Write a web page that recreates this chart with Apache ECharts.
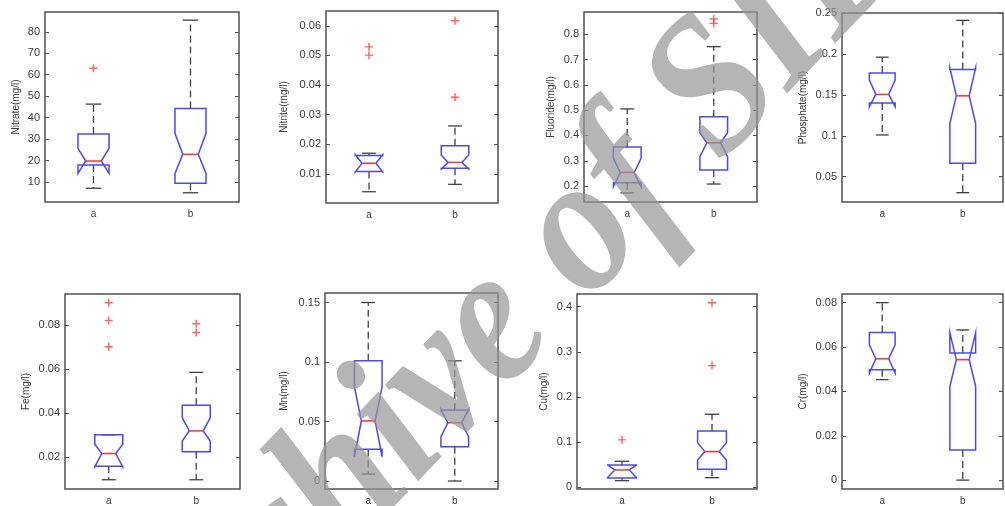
<!DOCTYPE html>
<html><head><meta charset="utf-8">
<script src="https://cdn.jsdelivr.net/npm/echarts@6/dist/echarts.min.js"></script>
<style>html,body{margin:0;padding:0;background:#fff}#c{width:1005px;height:506px}</style>
</head><body><div id="c"></div>
<script>
// groups on the x axis
const groups = ['a', 'b'];
const panelNames = ['Nitrate(mg/l)', 'Nitrite(mg/l)', 'Fluoride(mg/l)', 'Phosphate(mg/l)',
                    'Fe(mg/l)', 'Mn(mg/l)', 'Cu(mg/l)', 'Cr(mg/l)'];
// box stats per group: [whiskerLow, q1, notchLow, median, notchHigh, q3, whiskerHigh]
const nitrateBox   = [[7.1, 17.9, 14.0, 19.8, 25.7, 32.4, 46.3], [5.0, 9.4, 14.0, 22.9, 32.7, 44.3, 85.4]];
const nitriteBox   = [[0.0040, 0.0108, 0.0107, 0.0136, 0.0165, 0.0162, 0.0170], [0.0065, 0.0119, 0.0117, 0.0139, 0.0164, 0.0195, 0.0262]];
const fluorideBox  = [[0.173, 0.213, 0.197, 0.254, 0.310, 0.354, 0.505], [0.208, 0.263, 0.316, 0.371, 0.411, 0.474, 0.751]];
const phosphateBox = [[0.101, 0.140, 0.1354, 0.1505, 0.168, 0.1768, 0.196], [0.0305, 0.0663, 0.115, 0.1488, 0.183, 0.181, 0.241]];
const feBox        = [[0.0096, 0.0157, 0.0155, 0.0215, 0.0257, 0.0300, 0.0300], [0.0096, 0.0223, 0.0272, 0.0318, 0.0378, 0.0435, 0.0584]];
const mnBox        = [[0.0059, 0.0267, 0.0204, 0.0505, 0.0793, 0.101, 0.150], [0.0, 0.0289, 0.0373, 0.0490, 0.0600, 0.0597, 0.101]];
const cuBox        = [[0.0146, 0.0206, 0.0215, 0.0383, 0.0490, 0.0494, 0.0576], [0.0213, 0.0398, 0.0604, 0.079, 0.099, 0.1247, 0.1616]];
const crBox        = [[0.0453, 0.0498, 0.0483, 0.0547, 0.0610, 0.0665, 0.080], [0.0, 0.0136, 0.0423, 0.0543, 0.0665, 0.0573, 0.0677]];
// outliers per group
const nitrateOut   = [[63], []];
const nitriteOut   = [[0.0529, 0.0501], [0.0617, 0.0359]];
const fluorideOut  = [[], [0.860, 0.843]];
const phosphateOut = [[], []];
const feOut        = [[0.090, 0.082, 0.070], [0.0805, 0.0765]];
const mnOut        = [[], []];
const cuOut        = [[0.105], [0.4088, 0.2694]];
const crOut        = [[], []];
// y tick labels
const nitrateTicks   = [10, 20, 30, 40, 50, 60, 70, 80];
const nitriteTicks   = [0.01, 0.02, 0.03, 0.04, 0.05, 0.06];
const fluorideTicks  = [0.2, 0.3, 0.4, 0.5, 0.6, 0.7, 0.8];
const phosphateTicks = [0.05, 0.1, 0.15, 0.2, 0.25];
const feTicks        = [0.02, 0.04, 0.06, 0.08];
const mnTicks        = [0, 0.05, 0.1, 0.15];
const cuTicks        = [0, 0.1, 0.2, 0.3, 0.4];
const crTicks        = [0, 0.02, 0.04, 0.06, 0.08];
// y axis limits
const yRanges = [[0.7, 89.2], [0.0002, 0.065], [0.137, 0.888], [0.0191, 0.25],
                 [0.0054, 0.094], [-0.0067, 0.158], [-0.0038, 0.428], [-0.004, 0.0839]];

const boxes = [nitrateBox, nitriteBox, fluorideBox, phosphateBox, feBox, mnBox, cuBox, crBox];
const outs = [nitrateOut, nitriteOut, fluorideOut, phosphateOut, feOut, mnOut, cuOut, crOut];
const ticks = [nitrateTicks, nitriteTicks, fluorideTicks, phosphateTicks, feTicks, mnTicks, cuTicks, crTicks];

// layout (pixels): left, top, width, height, nameGap
const rects = [[45, 12, 194, 190, 24], [326, 11, 172, 192, 37], [584, 12, 173, 190, 28], [842, 13, 161, 189, 34],
               [65, 294, 175, 196, 34], [325, 293, 173, 196, 36], [577, 294, 180, 195, 28], [842, 294, 161, 196, 34]];

const FONT = '"Liberation Sans", Arial, sans-serif';
const TXT = '#3a3a3a';
const FRAME = '#505050';
const HW = 0.16, NW = 0.08, CW = 0.08;

function renderBox(params, api) {
  const x = api.value(0);
  const wl = api.value(1), q1 = api.value(2), nl = api.value(3), md = api.value(4),
        nh = api.value(5), q3 = api.value(6), wh = api.value(7);
  const P = (a, b) => api.coord([a, b]);
  const pts = [P(x - HW, q3), P(x + HW, q3), P(x + HW, nh), P(x + NW, md), P(x + HW, nl),
               P(x + HW, q1), P(x - HW, q1), P(x - HW, nl), P(x - NW, md), P(x - HW, nh)];
  const line = (p1, p2, style) => ({type: 'line', shape: {x1: p1[0], y1: p1[1], x2: p2[0], y2: p2[1]}, style: style});
  const dash = {stroke: '#404040', lineWidth: 1.3, lineDash: [7, 4]};
  const cap = {stroke: '#404040', lineWidth: 1.3};
  return {type: 'group', children: [
    line(P(x, q3), P(x, wh), dash),
    line(P(x, q1), P(x, wl), dash),
    line(P(x - CW, wh), P(x + CW, wh), cap),
    line(P(x - CW, wl), P(x + CW, wl), cap),
    {type: 'polygon', shape: {points: pts}, style: {fill: 'none', stroke: '#4848ff', lineWidth: 1.5}},
    line(P(x - NW, md), P(x + NW, md), {stroke: '#ff3030', lineWidth: 1.5})
  ]};
}

const plusPath = 'path://M0,4.1H10V5.9H0Z M4.1,0H5.9V10H4.1Z';

const grid = [], xAxis = [], yAxis = [], series = [];
rects.forEach((r, i) => {
  grid.push({left: r[0], top: r[1], width: r[2], height: r[3], show: true,
             borderColor: FRAME, borderWidth: 1.5, backgroundColor: 'transparent'});
  xAxis.push({gridIndex: i, type: 'value', min: 0.5, max: 2.5,
    axisLine: {show: false}, axisTick: {show: false}, splitLine: {show: false},
    axisLabel: {customValues: [1, 2], formatter: v => groups[Math.round(v) - 1],
                margin: 7, fontSize: 10, color: TXT, fontFamily: FONT}});
  const tk = ticks[i];
  yAxis.push({gridIndex: i, type: 'value', min: yRanges[i][0], max: yRanges[i][1],
    name: panelNames[i], nameLocation: 'middle', nameGap: r[4],
    nameTextStyle: {fontSize: 10, color: TXT, fontFamily: FONT},
    axisLine: {show: false}, splitLine: {show: false},
    axisTick: {show: true, inside: true, length: 4, customValues: tk, lineStyle: {color: FRAME, width: 1}},
    axisLabel: {customValues: tk, formatter: v => String(v), margin: 5, fontSize: 11, color: TXT, fontFamily: FONT}});
  yAxis.push({gridIndex: i, type: 'value', position: 'right', min: yRanges[i][0], max: yRanges[i][1],
    axisLine: {show: false}, splitLine: {show: false}, axisLabel: {show: false},
    axisTick: {show: true, inside: true, length: 4, customValues: tk, lineStyle: {color: FRAME, width: 1}}});
  series.push({type: 'custom', xAxisIndex: i, yAxisIndex: 2 * i, renderItem: renderBox, silent: true,
    encode: {x: 0, y: [1, 2, 3, 4, 5, 6, 7]},
    data: boxes[i].map((b, k) => [k + 1].concat(b))});
  const od = [];
  outs[i].forEach((arr, k) => arr.forEach(v => od.push([k + 1, v])));
  series.push({type: 'scatter', xAxisIndex: i, yAxisIndex: 2 * i, data: od, symbol: plusPath,
    symbolSize: 8, itemStyle: {color: '#ff3b3b'}, silent: true});
});

const chart = echarts.init(document.getElementById('c'), null, {renderer: 'canvas'});
chart.setOption({
  animation: false,
  backgroundColor: '#fff',
  grid, xAxis, yAxis, series,
  graphic: [{type: 'text', x: 507, y: 314, rotation: 0.81, scaleX: 0.9, scaleY: 1, z: 100, silent: true,
    style: {text: 'Archive of SID', font: 'italic bold 197px "Liberation Serif", serif',
            fill: 'rgba(150,150,150,0.7)', align: 'center', verticalAlign: 'middle',
            textAlign: 'center', textVerticalAlign: 'middle'}}]
});
</script></body></html>
